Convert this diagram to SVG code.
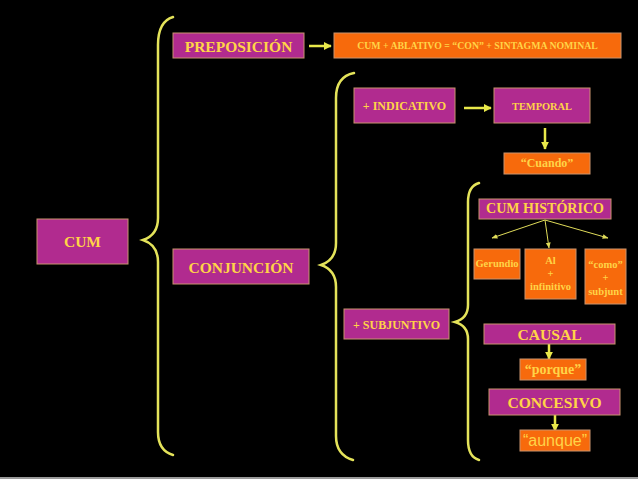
<svg xmlns="http://www.w3.org/2000/svg" width="638" height="479" viewBox="0 0 638 479">
<style>
.m{fill:#B12B8F;stroke:#C9946E;stroke-width:1}
.o{fill:#F76A0C;stroke:#C9946E;stroke-width:1}
.t{font-family:"Liberation Serif","Times New Roman",serif;font-weight:bold;fill:#FFD447;text-anchor:middle}
.s{font-family:"Liberation Sans",Arial,sans-serif;fill:#FFD447;text-anchor:middle}
.br{fill:none;stroke:#E4E35A;stroke-width:2.5;stroke-linecap:round}
.ar{fill:none;stroke:#E8E84A;stroke-width:2.5}
.fn{fill:none;stroke:#E0DC5A;stroke-width:1}
</style>
<defs>
<marker id="ah" viewBox="0 0 10 10" refX="9" refY="5" markerWidth="3.2" markerHeight="3.2" orient="auto" markerUnits="strokeWidth">
<path d="M0,0 L10,5 L0,10 z" fill="#E8E84A"/>
</marker>
<marker id="fh" viewBox="0 0 10 10" refX="9" refY="5" markerWidth="6" markerHeight="6" orient="auto" markerUnits="strokeWidth">
<path d="M0,1 L10,5 L0,9 z" fill="#E0DC5A"/>
</marker>
</defs>
<rect x="0" y="0" width="638" height="479" fill="#000"/>
<rect x="0" y="477" width="638" height="2" fill="#9a9a9a"/>

<g id="connectors">
<path class="br" d="M173,17 C163,20 158,30 158,45 L158,218 C158,230 152,237 143,240 C152,243 158,250 158,262 L158,432 C158,445 163,452 173,455"/>
<path class="br" d="M354,73 C344,75 336,82 336,98 L336,243 C336,255 330,262 321,265 C330,268 336,275 336,287 L336,436 C336,450 343,457 353,460"/>
<path class="br" d="M479,183 C472,185 468,192 468,202 L468,305 C468,315 462,320 455,322 C462,324 468,329 468,339 L468,440 C468,452 472,458 479,460"/>
<line class="ar" x1="309" y1="46" x2="331" y2="46" marker-end="url(#ah)"/>
<line class="ar" x1="464" y1="108" x2="491" y2="108" marker-end="url(#ah)"/>
<line class="ar" x1="545" y1="128" x2="545" y2="149" marker-end="url(#ah)"/>
<line class="fn" x1="545" y1="220" x2="492" y2="238" marker-end="url(#fh)"/>
<line class="fn" x1="545" y1="220" x2="549" y2="248" marker-end="url(#fh)"/>
<line class="fn" x1="545" y1="220" x2="608" y2="238" marker-end="url(#fh)"/>
<line class="ar" x1="549" y1="344" x2="549" y2="359" marker-end="url(#ah)"/>
<line class="ar" x1="555" y1="415" x2="555" y2="431" marker-end="url(#ah)"/>
</g>

<g id="cum"><rect class="m" x="37" y="219" width="91" height="45"/><text class="t" x="82.5" y="247" font-size="15.5">CUM</text></g>
<g id="preposicion"><rect class="m" x="173" y="33" width="131" height="25"/><text class="t" x="238.5" y="52" font-size="15.5">PREPOSICIÓN</text></g>
<g id="ablativo"><rect class="o" x="334" y="33" width="287" height="25"/><text class="t" x="477.5" y="49" font-size="9.8">CUM + ABLATIVO = “CON” + SINTAGMA NOMINAL</text></g>
<g id="conjuncion"><rect class="m" x="173" y="249" width="136" height="35"/><text class="t" x="241" y="273" font-size="15.5">CONJUNCIÓN</text></g>
<g id="indicativo"><rect class="m" x="354" y="88" width="101" height="35"/><text class="t" x="404.5" y="110" font-size="12">+ INDICATIVO</text></g>
<g id="temporal"><rect class="m" x="494" y="88" width="96" height="35"/><text class="t" x="542" y="110" font-size="10.4">TEMPORAL</text></g>
<g id="cuando"><rect class="o" x="504" y="153" width="86" height="21"/><text class="t" x="547" y="167" font-size="12">“Cuando”</text></g>
<g id="cumhistorico"><rect class="m" x="479" y="199" width="132" height="20"/><text class="t" x="545" y="213" font-size="14">CUM HISTÓRICO</text></g>
<g id="gerundio"><rect class="o" x="474" y="249" width="46" height="30"/><text class="t" x="497" y="267" font-size="10.5">Gerundio</text></g>
<g id="alinfinitivo"><rect class="o" x="525" y="249" width="51" height="50"/><text class="t" x="550.5" y="264" font-size="10.5">Al</text><text class="t" x="550.5" y="277" font-size="10.5">+</text><text class="t" x="550.5" y="290" font-size="10.5">infinitivo</text></g>
<g id="como"><rect class="o" x="585" y="249" width="41" height="55"/><text class="t" x="605.5" y="268" font-size="10.5">“como”</text><text class="t" x="605.5" y="281" font-size="10.5">+</text><text class="t" x="605.5" y="295" font-size="10.5">subjunt</text></g>
<g id="subjuntivo"><rect class="m" x="344" y="309" width="105" height="30"/><text class="t" x="396.5" y="329" font-size="12">+ SUBJUNTIVO</text></g>
<g id="causal"><rect class="m" x="484" y="324" width="131" height="20"/><text class="t" x="549.5" y="340" font-size="15.6">CAUSAL</text></g>
<g id="porque"><rect class="o" x="520" y="359" width="66" height="21"/><text class="t" x="553" y="374" font-size="14">“porque”</text></g>
<g id="concesivo"><rect class="m" x="489" y="389" width="131" height="26"/><text class="t" x="554.5" y="408" font-size="15.6">CONCESIVO</text></g>
<g id="aunque"><rect class="o" x="520" y="430" width="70" height="21"/><text class="s" x="555" y="446" font-size="16">“aunque”</text></g>
</svg>
